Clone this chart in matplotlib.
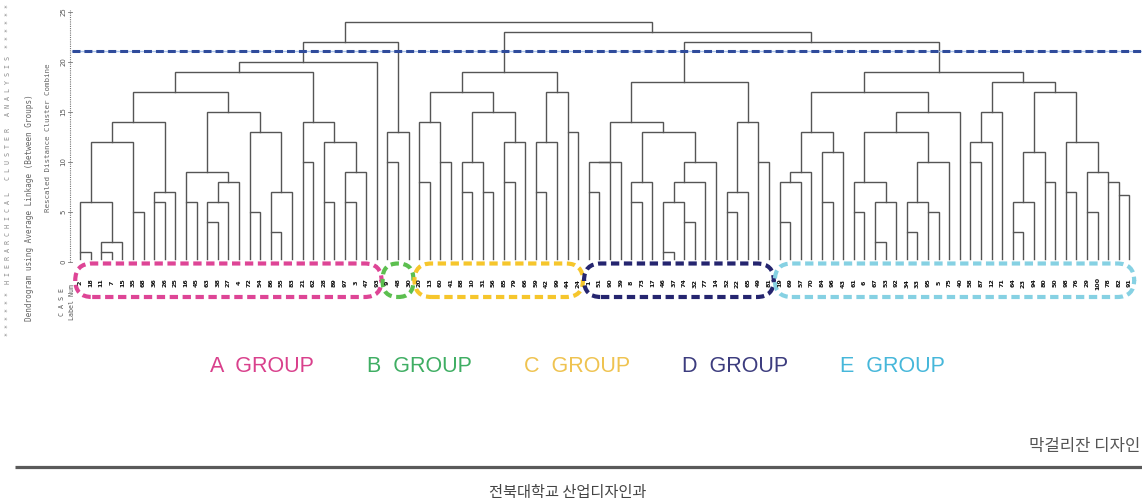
import matplotlib
matplotlib.use("Agg")
import matplotlib.pyplot as plt
from matplotlib.patches import FancyBboxPatch

plt.rcParams['font.family'] = ['Liberation Sans', 'Noto Sans CJK KR', 'DejaVu Sans']

# case numbers in dendrogram order
case_labels = [2, 18, 11, 7, 15, 35, 68, 36, 26, 25, 16, 45, 63, 38, 27, 4, 72, 54, 86, 55,
               83, 21, 62, 28, 89, 97, 3, 47, 93,
               9, 48, 30,
               20, 13, 60, 41, 88, 10, 31, 56, 85, 79, 66, 59, 42, 99, 44, 24,
               1, 51, 90, 39, 8, 73, 17, 46, 37, 74, 32, 77, 14, 52, 22, 65, 49, 81,
               19, 69, 57, 70, 84, 96, 43, 61, 6, 67, 53, 92, 34, 33, 95, 5, 75, 40,
               58, 87, 12, 71, 64, 23, 94, 80, 50, 98, 76, 29, 100, 78, 82, 91]

# (child, child, rescaled distance); ids >= 100 are earlier merges
merges = [
    # A
    (0, 1, 1), (2, 3, 1), (101, 4, 2), (100, 102, 6), (5, 6, 5), (103, 104, 12),
    (7, 8, 6), (106, 9, 7), (105, 107, 14), (10, 11, 6), (12, 13, 4), (110, 14, 6),
    (111, 15, 8), (109, 112, 9), (16, 17, 5), (18, 19, 3), (115, 20, 7), (114, 116, 13),
    (113, 117, 15), (108, 118, 17), (21, 22, 10), (23, 24, 6), (25, 26, 6), (122, 27, 9),
    (121, 123, 12), (120, 124, 14), (119, 125, 19), (126, 28, 20),
    # B
    (29, 30, 10), (128, 31, 13), (127, 129, 22),
    # C
    (32, 33, 8), (34, 35, 10), (131, 132, 14), (36, 37, 7), (38, 39, 7), (134, 135, 10),
    (40, 41, 8), (137, 42, 12), (136, 138, 15), (133, 139, 17), (43, 44, 7), (141, 45, 12),
    (46, 47, 13), (142, 143, 17), (140, 144, 19),
    # D
    (48, 49, 7), (146, 50, 10), (147, 51, 10), (52, 53, 6), (149, 54, 8), (55, 56, 1),
    (57, 58, 4), (151, 152, 6), (153, 59, 8), (154, 60, 10), (150, 155, 13), (148, 156, 14),
    (61, 62, 5), (158, 63, 7), (64, 65, 10), (159, 160, 14), (157, 161, 18),
    # E
    (66, 67, 4), (163, 68, 8), (164, 69, 9), (70, 71, 6), (166, 72, 11), (165, 167, 13),
    (73, 74, 5), (75, 76, 2), (170, 77, 6), (169, 171, 8), (78, 79, 3), (80, 81, 5),
    (173, 174, 6), (175, 82, 10), (172, 176, 13), (177, 83, 15), (168, 178, 17),
    (84, 85, 10), (180, 86, 12), (181, 87, 15), (88, 89, 3), (183, 90, 6), (91, 92, 8),
    (184, 185, 11), (93, 94, 7), (95, 96, 5), (98, 99, 6.7), (97, 189, 8), (188, 190, 9),
    (187, 191, 12), (186, 192, 17), (182, 193, 18), (179, 194, 19),
    # top
    (162, 195, 22), (145, 196, 23), (130, 197, 24),
]

cut_height = 21.1
y_ticks = [0, 5, 10, 15, 20, 25]

group_names = ['A  GROUP', 'B  GROUP', 'C  GROUP', 'D  GROUP', 'E  GROUP']
group_first = [0, 29, 32, 48, 66]
group_last = [28, 31, 47, 65, 99]
ring_colors = ['#de4596', '#5cbf4f', '#f6c62c', '#25256f', '#86d1e3']
name_colors = ['#d9408c', '#3fae63', '#efc350', '#3c3c7e', '#46b7da']

fig = plt.figure(figsize=(11.42, 5.03), dpi=100)
ax = fig.add_axes([0, 0, 1, 1])
# one leaf step = 10.6 px, one distance unit = 10 px
ax.set_xlim(-80 / 10.6, (1142 - 80) / 10.6)
ax.set_ylim((262 - 503) / 10, 262 / 10)
ax.axis('off')

# dendrogram links
pos = list(range(len(case_labels)))
hgt = [0.35] * len(case_labels)
for a, b, h in merges:
    xa, xb = pos[a], pos[b]
    ax.plot([xa, xa, xb, xb], [hgt[a], h, h, hgt[b]], color='#555555', lw=1.0,
            solid_joinstyle='miter')
    pos.append((xa + xb) // 2)
    hgt.append(h)

# cut line
ax.plot([-0.75, 100.3], [cut_height, cut_height], color='#a9c3ea', lw=1.0)
ax.plot([-0.75, 100.3], [cut_height, cut_height], color='#2f4b9b', lw=2.2,
        dashes=(2.6, 1.3))

# distance axis
ax.plot([-0.94, -0.94], [0, 25.2], color='#777777', lw=0.8, ls=(0, (1, 1)))
for t in y_ticks:
    ax.plot([-1.1, -0.8], [t, t], color='#777777', lw=0.6)
    ax.text(-1.6, t, str(t), rotation=90, ha='center', va='center', fontsize=5,
            color='#555555', family='DejaVu Sans')

# leaf labels
for i, lab in enumerate(case_labels):
    ax.text(i, -2.1, str(lab), rotation=90, ha='center', va='center', fontsize=4.6,
            color='#111111', family='DejaVu Sans', fontweight='bold')

# group rings
for first, last, col in zip(group_first, group_last, ring_colors):
    x0, x1 = first - 0.45, last + 0.45
    w = x1 - x0
    r = min(1.6, w / 2)
    ring = FancyBboxPatch((x0, -3.5), w, 3.35,
                          boxstyle=f"round,pad=0,rounding_size={r}",
                          mutation_aspect=1.06, fill=False, ec=col, lw=3,
                          ls=(0, (2, 1.1)), clip_on=False)
    ax.add_patch(ring)

# header text from the clustering output
ax.text((8 - 80) / 10.6, 9.2,
        '* * * * * *  H I E R A R C H I C A L   C L U S T E R   A N A L Y S I S  * * * * * *',
        rotation=90, ha='center', va='center', fontsize=4.8, color='#8a8a8a',
        family='DejaVu Sans Mono')
ax.text((30 - 80) / 10.6, 5.4, 'Dendrogram using Average Linkage (Between Groups)',
        rotation=90, ha='center', va='center', fontsize=5.6, color='#666666',
        family='DejaVu Sans Mono')
ax.text((48 - 80) / 10.6, 12.4, 'Rescaled Distance Cluster Combine',
        rotation=90, ha='center', va='center', fontsize=5.4, color='#666666',
        family='DejaVu Sans Mono')
ax.text((62 - 80) / 10.6, -4.0, 'C A S E', rotation=90, ha='center', va='center',
        fontsize=4.8, color='#555555', family='DejaVu Sans Mono')
ax.text((72 - 80) / 10.6, -4.0, 'Label Num', rotation=90, ha='center', va='center',
        fontsize=4.8, color='#555555', family='DejaVu Sans Mono')

# group names
for k, (name, col) in enumerate(zip(group_names, name_colors)):
    cx = (group_first[0] + 17.2 + k * 14.86)
    ax.text(cx, (262 - 366) / 10, name, ha='center', va='center', fontsize=15.5,
            color=col)

ax.text((1140 - 80) / 10.6, (262 - 447) / 10, '막걸리잔 디자인', ha='right', va='center',
        fontsize=12, color='#555555', family=['Noto Sans CJK KR', 'DejaVu Sans'])
ax.plot([(15 - 80) / 10.6, (1142 - 80) / 10.6], [(262 - 467) / 10] * 2,
        color='#5a5a5a', lw=2.3, solid_capstyle='butt')
ax.text((568 - 80) / 10.6, (262 - 492) / 10, '전북대학교 산업디자인과', ha='center',
        va='center', fontsize=11, color='#444444',
        family=['Noto Sans CJK KR', 'DejaVu Sans'])

fig.savefig('out.png', dpi=100)
